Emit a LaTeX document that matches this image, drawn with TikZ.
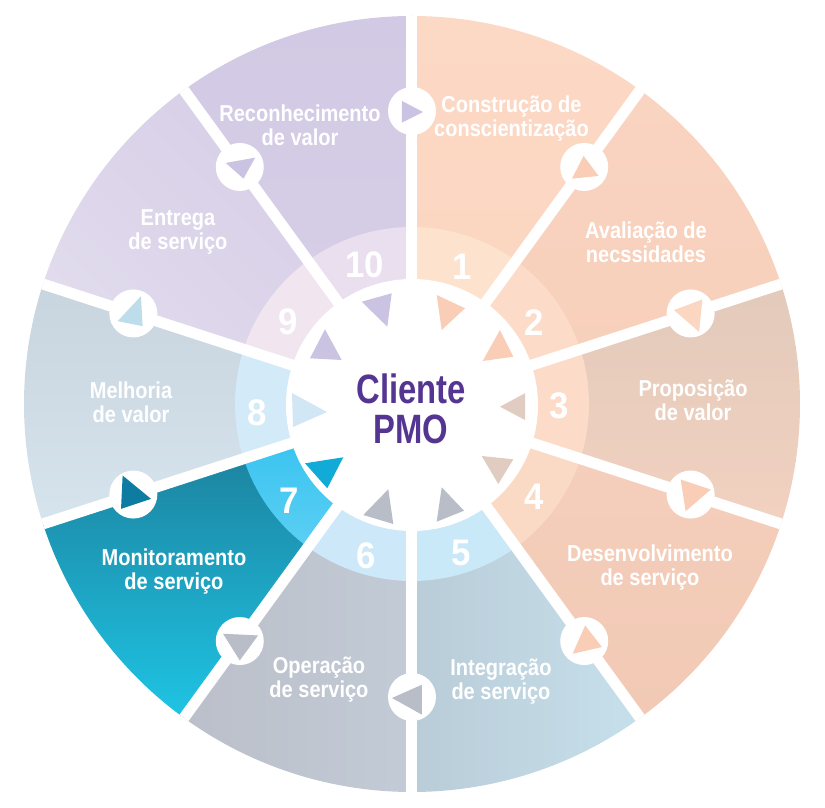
\documentclass[tikz,border=0pt]{standalone}
\usepackage{fontspec}
\setmainfont{Liberation Sans}
\newfontfamily\labelfont{Liberation Sans}[FakeStretch=0.87]
\newfontfamily\numfont{Liberation Sans}[FakeStretch=0.94]
\newfontfamily\hubfont{Liberation Sans}[FakeStretch=0.8]

% outer sectors (two tones each)
\definecolor{s1a}{HTML}{FCD9C5}\definecolor{s1b}{HTML}{FBD5C0}
\definecolor{s2a}{HTML}{F9D4C0}\definecolor{s2b}{HTML}{F7CFBB}
\definecolor{s3a}{HTML}{E2CABB}\definecolor{s3b}{HTML}{F2D1C0}
\definecolor{s4a}{HTML}{F6D0BD}\definecolor{s4b}{HTML}{F1C9B5}
\definecolor{s5a}{HTML}{B9CCD8}\definecolor{s5b}{HTML}{C6E0EB}
\definecolor{s6a}{HTML}{BBBFC9}\definecolor{s6b}{HTML}{C2CBD6}
\definecolor{s7a}{HTML}{1B7894}\definecolor{s7b}{HTML}{1FC4E4}
\definecolor{s8a}{HTML}{C8D4DE}\definecolor{s8b}{HTML}{D6E4EE}
\definecolor{s9a}{HTML}{D5CCE5}\definecolor{s9b}{HTML}{E2DCEE}
\definecolor{s10a}{HTML}{D2C9E4}\definecolor{s10b}{HTML}{D8D0E8}
% number ring
\definecolor{r1}{HTML}{FDE2CD}\definecolor{r2}{HTML}{FCDCC8}
\definecolor{r3}{HTML}{FCDBC8}\definecolor{r4}{HTML}{FBDAC5}
\definecolor{r5}{HTML}{C9E8F8}\definecolor{r6}{HTML}{CDE8F8}
\definecolor{r7a}{HTML}{2EC0F0}\definecolor{r7b}{HTML}{5BCFF3}
\definecolor{r8}{HTML}{D3EAF8}\definecolor{r9}{HTML}{F1E5F0}
\definecolor{r10}{HTML}{E9DFEF}
% arrow heads
\definecolor{tlav}{HTML}{CBC3E2}
\definecolor{tpeach}{HTML}{F9CDB6}
\definecolor{tpeachl}{HTML}{FBD6C0}
\definecolor{ttan}{HTML}{E0CCC0}
\definecolor{tgray}{HTML}{B8BDC7}
\definecolor{tcyan}{HTML}{12AAD6}
\definecolor{tsky}{HTML}{D2E7F6}
\definecolor{tteal}{HTML}{0E7BA1}
\definecolor{tice}{HTML}{BEDDEA}
\definecolor{hubpurple}{HTML}{553592}

\tikzset{
  sep/.style={draw=white, line width=11pt},
  hole/.style={circle, fill=white, minimum size=48pt, inner sep=0pt},
  phase/.style={text=white, align=center,
    font=\labelfont\bfseries\fontsize{23}{24}\selectfont},
  stepnum/.style={text=white, inner sep=0pt,
    font=\numfont\bfseries\fontsize{37}{37}\selectfont},
  hub/.style={text=hubpurple, align=center, inner sep=0pt,
    font=\hubfont\bfseries\fontsize{41}{40}\selectfont},
}

\begin{document}
\begin{tikzpicture}[x=1pt,y=1pt]
\useasboundingbox (-412,-404) rectangle (413,404);

% ---- outer sectors ----
\foreach \a/\b/\ct/\cb/\sa in {54/90/s1a/s1b/0, 18/54/s2a/s2b/0,
    -18/18/s3a/s3b/0, -54/-18/s4a/s4b/0, -90/-54/s5a/s5b/90,
    -126/-90/s6a/s6b/90, -162/-126/s7a/s7b/0, 162/198/s8a/s8b/0,
    126/162/s9a/s9b/-45, 90/126/s10a/s10b/0}
  \shade[top color=\ct, bottom color=\cb, shading angle=\sa]
    (0,0) -- (\a:388) arc[start angle=\a, end angle=\b, radius=388] -- cycle;

% ---- number ring ----
\foreach \a/\b/\rc in {54/90/r1, 18/54/r2, -18/18/r3, -54/-18/r4,
    -90/-54/r5, -126/-90/r6, 162/198/r8, 126/162/r9, 90/126/r10}
  \fill[\rc] (0,0) -- (\a:177) arc[start angle=\a, end angle=\b, radius=177] -- cycle;
\shade[top color=r7a, bottom color=r7b]
  (0,0) -- (-162:177) arc[start angle=-162, end angle=-126, radius=177] -- cycle;

% ---- separators ----
\foreach \a [count=\i] in {90,54,18,-18,-54,-90,-126,-162,162,126}
  \coordinate (rim\i) at (\a:388);
\coordinate (hubc) at (0,0);
\foreach \i in {1,...,10}
  \draw[sep] (hubc) -- (rim\i);

% ---- hub ----
\fill[white] (0,-1) circle[radius=126];

% arrow heads around the hub
\fill[tlav]   (-50.3,102.3) -- (-20.3,110.7) -- (-24.7,77.3) -- cycle;
\fill[tpeach] (24.7,109) -- (53,95.7) -- (29.7,74) -- cycle;
\fill[tpeach] (88,74) -- (101.3,47.3) -- (70.7,43) -- cycle;
\fill[ttan]   (113,10.7) -- (88,-2.7) -- (113,-16) -- cycle;
\fill[ttan]   (69.7,-52) -- (101.3,-55.3) -- (86.3,-80) -- cycle;
\fill[tgray]  (29.7,-83.3) -- (52,-106.7) -- (24.7,-117.7) -- cycle;
\fill[tgray]  (-23.7,-85.3) -- (-18.7,-120) -- (-48.7,-111) -- cycle;
\fill[tcyan]  (-107,-59.3) -- (-68.7,-53.3) -- (-84.7,-84.3) -- cycle;
\fill[tsky]   (-120,11) -- (-85,-8) -- (-119,-23) -- cycle;
\fill[tlav]   (-87,74.7) -- (-70.3,44) -- (-102,45.7) -- cycle;

% ---- markers on the separators ----
\foreach \a [count=\i] in {90,54,18,-18,-54,-90,-126,-162,162,126}
  \node[hole] (mk\i) at (\a:293) {};
\fill[tlav, shift={(mk1)}]    (-10,10) -- (11,-1) -- (-10,-11.6) -- cycle;
\fill[tpeach, shift={(mk2)}]  (-0.6,11) -- (14.4,-9) -- (-12.3,-11.7) -- cycle;
\fill[tpeachl, shift={(mk3)}] (-16.6,3.3) -- (11.7,14) -- (8.4,-18.4) -- cycle;
\fill[tpeach, shift={(mk4)}]  (-10,15) -- (20,5) -- (-5,-16.7) -- cycle;
\fill[tpeach, shift={(mk5)}]  (1,15.6) -- (17.7,-6) -- (-11.6,-12.7) -- cycle;
\fill[tgray, shift={(mk6)}]   (-20,-1) -- (10,12.3) -- (10,-17.7) -- cycle;
\fill[tgray, shift={(mk7)}]   (-16.7,7.3) -- (18.3,5.6) -- (0,-19.4) -- cycle;
\fill[tteal, shift={(mk8)}]   (-10.7,19) -- (17.7,-4.3) -- (-12.3,-14.3) -- cycle;
\fill[tice, shift={(mk9)}]    (7.6,17.3) -- (9.3,-12.7) -- (-15.7,-7.7) -- cycle;
\fill[tlav, shift={(mk10)}]   (-14,4) -- (15.4,9.3) -- (3.7,-11.7) -- cycle;

% ---- step numbers ----
\node[stepnum] (n1)  at (50.5,137.5)  {1};
\node[stepnum] (n2)  at (122,81.5)    {2};
\node[stepnum] (n3)  at (147,-2)      {3};
\node[stepnum] (n4)  at (122,-92.5)   {4};
\node[stepnum] (n5)  at (49,-148.5)   {5};
\node[stepnum] (n6)  at (-46,-151.5)  {6};
\node[stepnum] (n7)  at (-123,-97)    {7};
\node[stepnum] (n8)  at (-155,-8.5)   {8};
\node[stepnum] (n9)  at (-124,82.5)   {9};
\node[stepnum] (n10) at (-47,139.5)   {10};

% ---- phase labels ----
\node[phase] (p1)  at (99.5,285)    {Construção de\\conscientização};
\node[phase] (p2)  at (234,162)     {Avaliação de\\necssidades};
\node[phase] (p3)  at (281,4)       {Proposição\\de valor};
\node[phase] (p4)  at (238,-164)    {Desenvolvimento\\de serviço};
\node[phase] (p5)  at (89,-278)     {Integração\\de serviço};
\node[phase] (p6)  at (-93,-276)    {Operação\\de serviço};
\node[phase] (p7)  at (-238,-167.5) {Monitoramento\\de serviço};
\node[phase] (p8)  at (-281,2)      {Melhoria\\de valor};
\node[phase] (p9)  at (-234,172)    {Entrega\\de serviço};
\node[phase] (p10) at (-112,278.5)  {Reconhecimento\\de valor};

% ---- centre ----
\node[hub] (pmo) at (-1,-4.5) {Cliente\\PMO};
\end{tikzpicture}
\end{document}
